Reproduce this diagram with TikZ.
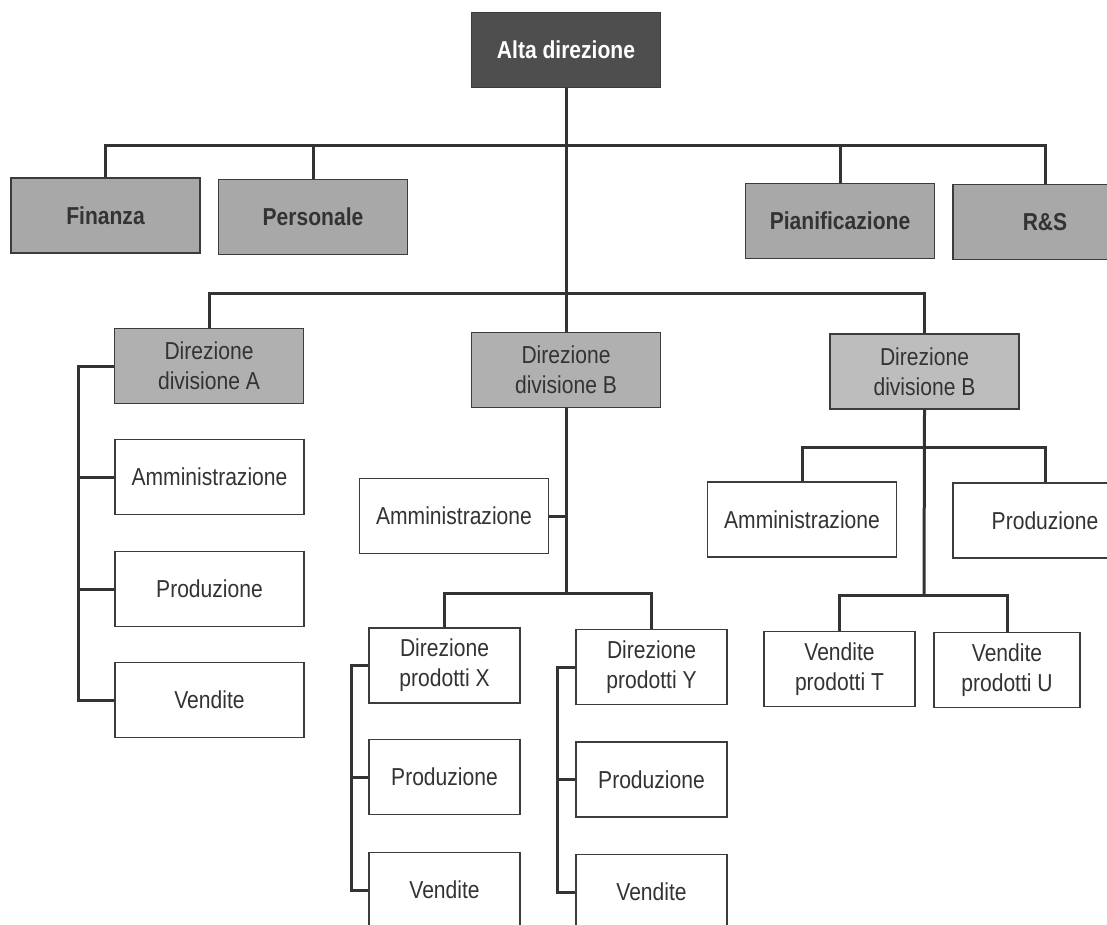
\documentclass[tikz,border=0pt]{standalone}
\usepackage{fontspec}
\setmainfont{Liberation Sans}[FakeStretch=0.86]
\definecolor{ink}{HTML}{333333}
\definecolor{edge}{HTML}{3C3C3C}
\definecolor{darkfill}{HTML}{4E4E4E}
\definecolor{midfill}{HTML}{A8A8A8}
\definecolor{divfill}{HTML}{B0B0B0}
\definecolor{lightfill}{HTML}{BDBDBD}
\tikzset{
  box/.style={draw=edge, line width=1.8pt, rectangle, inner sep=0pt, align=center,
    text=ink, font=\fontsize{24.5}{30}\selectfont, fill=white},
  wide/.style={minimum width=189pt, minimum height=75pt},
  narrow/.style={minimum width=151pt, minimum height=75pt},
  topbox/.style={box, wide, fill=darkfill, text=white, font=\fontsize{24.5}{30}\selectfont\bfseries},
  staffbox/.style={box, wide, fill=midfill, font=\fontsize{24.5}{30}\selectfont\bfseries},
  divbox/.style={box, wide, fill=divfill},
  conn/.style={draw=ink, line width=3pt}
}
\begin{document}
\begin{tikzpicture}[x=1pt,y=-1pt]
\useasboundingbox (0,0) rectangle (1107,924);
\fill[white] (0,0) rectangle (1107,924);
\clip (0,0) rectangle (1107,924);

% coordinates for buses and rails
\coordinate (b1) at (566,145);
\coordinate (b2) at (566,293);
\coordinate (bX) at (566,593);
\coordinate (bC1) at (924,447);
\coordinate (bC2) at (924,595);
\coordinate (rA) at (78,0);
\coordinate (rX) at (351,0);
\coordinate (rY) at (557,0);

% nodes
\node[topbox] (alta) at (566,50) {Alta direzione};
\node[staffbox] (fin) at (105.5,215.5) {Finanza};
\node[staffbox] (pers) at (313,217) {Personale};
\node[staffbox] (pian) at (840,221) {Pianificazione};
\node[staffbox, minimum width=184pt] (rs) at (1045,222) {R\&S};

\node[divbox] (divA) at (209,366) {Direzione\\divisione A};
\node[divbox] (divB) at (566,370) {Direzione\\divisione B};
\node[divbox, fill=lightfill] (divC) at (924.5,371.5) {Direzione\\divisione B};

\node[box, wide] (ammA) at (209.5,477) {Amministrazione};
\node[box, wide] (prodA) at (209.5,589) {Produzione};
\node[box, wide] (vendA) at (209.5,700) {Vendite};

\node[box, wide] (ammB) at (454,516) {Amministrazione};
\node[box, narrow] (dirX) at (444.5,665.5) {Direzione\\prodotti X};
\node[box, narrow] (dirY) at (651.5,667) {Direzione\\prodotti Y};
\node[box, narrow] (prodX) at (444.5,777) {Produzione};
\node[box, narrow] (vendX) at (444.5,890) {Vendite};
\node[box, narrow] (prodY) at (651.5,779.5) {Produzione};
\node[box, narrow] (vendY) at (651.5,892) {Vendite};

\node[box, wide] (ammC) at (802,519.5) {Amministrazione};
\node[box, wide, minimum width=184pt] (prodC) at (1045,520.5) {Produzione};
\node[box, narrow] (vendT) at (839.5,669) {Vendite\\prodotti T};
\node[box, narrow, minimum width=146pt] (vendU) at (1007,670) {Vendite\\prodotti U};

% connectors
\draw[conn] (alta.south) -- (divB.north);
\draw[conn] (fin.north) |- (b1);
\draw[conn] (rs.north) |- (b1);
\draw[conn] (pers.north) -- (pers.north |- b1);
\draw[conn] (pian.north) -- (pian.north |- b1);
\draw[conn] (divA.north) |- (b2);
\draw[conn] (divC.north) |- (b2);

\draw[conn] (divA.west) -| (rA |- vendA.west) -- (vendA.west);
\draw[conn] (ammA.west) -- (ammA.west -| rA);
\draw[conn] (prodA.west) -- (prodA.west -| rA);

\draw[conn] (divB.south) -- (bX);
\draw[conn] (ammB.east) -- (ammB.east -| bX);
\draw[conn] (dirX.north) |- (bX);
\draw[conn] (dirY.north) |- (bX);

\draw[conn] (dirX.west) -| (rX |- vendX.west) -- (vendX.west);
\draw[conn] (prodX.west) -- (prodX.west -| rX);
\draw[conn] (dirY.west) -| (rY |- vendY.west) -- (vendY.west);
\draw[conn] (prodY.west) -- (prodY.west -| rY);

\draw[conn] (divC.south) -- (bC2);
\draw[conn] (ammC.north) |- (bC1);
\draw[conn] (prodC.north) |- (bC1);
\draw[conn] (vendT.north) |- (bC2);
\draw[conn] (vendU.north) |- (bC2);
\end{tikzpicture}
\end{document}
